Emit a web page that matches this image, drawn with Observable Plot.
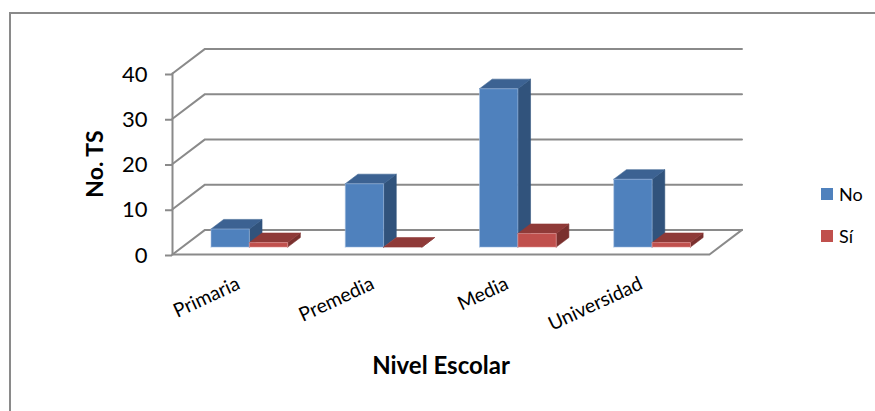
<!DOCTYPE html>
<html lang="es">
<head>
<meta charset="utf-8">
<script src="https://cdn.jsdelivr.net/npm/d3@7"></script>
<script src="https://cdn.jsdelivr.net/npm/@observablehq/plot@0.6"></script>
<style>
  html, body { margin: 0; padding: 0; background: #fff; }
  #chart { position: relative; width: 875px; height: 411px; overflow: hidden; font-family: Lato, sans-serif; }
  #chart svg { position: absolute; left: 0; top: 0; display: block; background: transparent; }
  #frame { position: absolute; left: 9px; top: 12px; right: 0; bottom: 0; border-left: 2px solid #8a8a8a; border-top: 2px solid #8a8a8a; }
  .key { position: absolute; left: 821px; display: flex; align-items: center; font-size: 18px; color: #000; height: 12px; }
  .key i { display: block; width: 12px; height: 12px; margin-right: 6px; }
</style>
</head>
<body>
<div id="chart"><div id="frame"></div></div>
<script>
// Survey counts by school level
const levels = ["Primaria", "Premedia", "Media", "Universidad"];
const noValues = [4, 14, 35, 15];
const siValues = [1, 0, 3, 1];
const yTicks = [0, 10, 20, 30, 40];

const seriesNames = ["No", "Sí"];
const palette = {
  No: { front: "#4f81bd", side: "#31537c", top: "#3c6292", edge: "#a5c0e2" },
  "Sí": { front: "#c0504d", side: "#7a302e", top: "#8f3a38", edge: "#e8a0a0" }
};

// Oblique projection of the chart's box: depth 0 is the front, depth 1 the back wall.
const depthX = 0.242;  // category units per full depth
const depthY = 5.44;   // value units per full depth
const project = (cat, value, depth) => ({ x: cat + depth * depthX, y: value + depth * depthY });

// Column layout inside each category band, with a 150% gap.
const barWidth = 1 / 3.5;
const barInset = (1 - 2 * barWidth) / 2;
const nearDepth = 0.3;
const farDepth = 0.69;

const faces = [];
function addFace(id, color, edge, corners) {
  corners.forEach(([c, v, d]) => faces.push({ ...project(c, v, d), id, color, edge }));
}
levels.forEach((level, i) => {
  [noValues[i], siValues[i]].forEach((value, s) => {
    const name = seriesNames[s];
    const p = palette[name];
    const x0 = i + barInset + s * barWidth;
    const x1 = x0 + barWidth;
    const key = `${level}-${name}`;
    addFace(`${key}-side`, p.side, p.side, [[x1, 0, nearDepth], [x1, 0, farDepth], [x1, value, farDepth], [x1, value, nearDepth], [x1, 0, nearDepth]]);
    addFace(`${key}-top`, p.top, p.top, [[x0, value, nearDepth], [x1, value, nearDepth], [x1, value, farDepth], [x0, value, farDepth], [x0, value, nearDepth]]);
    if (value > 0) {
      addFace(`${key}-front`, p.front, p.edge, [[x0, 0, nearDepth], [x1, 0, nearDepth], [x1, value, nearDepth], [x0, value, nearDepth], [x0, 0, nearDepth]]);
    }
  });
});

// Gridlines run up the side wall and along the back wall.
const gridLines = yTicks.flatMap(v =>
  [[0, v, 0], [0, v, 1], [levels.length, v, 1]].map(([c, w, d]) => ({ ...project(c, w, d), v }))
);
const floorEdge = [[0, 0, 0], [levels.length, 0, 0], [levels.length, 0, 1]].map(([c, v, d]) => project(c, v, d));
const valueAxis = [{ x: 0, y: 0 }, { x: 0, y: 40 }];
const lineGrey = "#8a8a8a";

const plot = Plot.plot({
  width: 875,
  height: 411,
  marginLeft: 172,
  marginRight: 166,
  marginTop: 73,
  marginBottom: 157,
  style: { fontFamily: "Lato, sans-serif", background: "transparent", color: "#000" },
  x: { domain: [0, levels.length], axis: null },
  y: { domain: [0, 40], axis: null },
  color: { type: "identity" },
  marks: [
    Plot.line(gridLines, { x: "x", y: "y", z: "v", stroke: lineGrey, strokeWidth: 2, curve: "linear" }),
    Plot.line(floorEdge, { x: "x", y: "y", stroke: lineGrey, strokeWidth: 2, curve: "linear" }),
    Plot.line(valueAxis, { x: "x", y: "y", stroke: lineGrey, strokeWidth: 2 }),
    Plot.axisY({ ticks: yTicks, tickSize: 7, tickPadding: 18, fontSize: 22, dy: 1, stroke: lineGrey, strokeWidth: 2, fill: "#000", label: null }),
    Plot.line(faces, { x: "x", y: "y", z: "id", fill: "color", stroke: "edge", strokeWidth: 0.8, strokeOpacity: 0.7, curve: "linear" }),
    // Slanted category labels end under the middle of each band
    Plot.text(levels, {
      x: (d, i) => i + 0.5,
      y: () => 0,
      text: d => d,
      rotate: -25,
      textAnchor: "end",
      dx: -1,
      dy: 28,
      fontSize: 19.5,
      fill: "#000"
    }),
    Plot.text(["No. TS"], { frameAnchor: "left", textAnchor: "middle", rotate: -90, dx: -77, dy: 0, fontWeight: "bold", fontSize: 23, fill: "#000" }),
    Plot.text(["Nivel Escolar"], { frameAnchor: "bottom", dy: 119, x: () => 2, fontWeight: "bold", fontSize: 24, fill: "#000" })
  ]
});
const chart = document.getElementById("chart");
chart.appendChild(plot);

// Series key on the right of the plot
seriesNames.forEach((name, i) => {
  const key = document.createElement("div");
  key.className = "key";
  key.style.top = (188 + i * 42) + "px";
  const swatch = document.createElement("i");
  swatch.style.background = palette[name].front;
  key.appendChild(swatch);
  key.appendChild(document.createTextNode(name));
  chart.appendChild(key);
});
</script>
</body>
</html>
